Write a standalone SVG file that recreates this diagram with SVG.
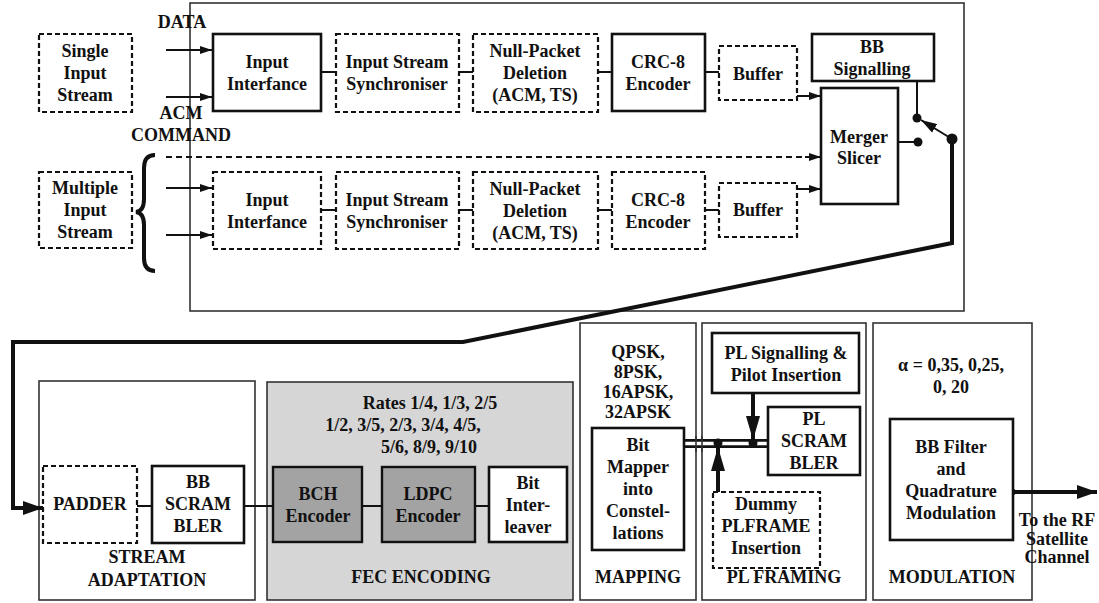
<svg xmlns="http://www.w3.org/2000/svg" width="1099" height="603" viewBox="0 0 1099 603">
<defs>
<style>
text{font-family:"Liberation Serif","Times New Roman",serif;font-weight:bold;font-size:18px;fill:#111;text-anchor:middle}
.frame{fill:none;stroke:#333;stroke-width:1.6}
.solid{fill:#fff;stroke:#111;stroke-width:2.6}
.dash{fill:#fff;stroke:#111;stroke-width:2.2;stroke-dasharray:5,3}
.dark{fill:#a3a3a3;stroke:#111;stroke-width:2.4}
.ln{fill:none;stroke:#111;stroke-width:2}
.thick{fill:none;stroke:#111;stroke-width:4}
.dot{fill:#111}
</style>
<marker id="ah" viewBox="0 0 12 8" refX="12" refY="4" markerWidth="12" markerHeight="8" markerUnits="userSpaceOnUse" orient="auto"><path d="M0,0 L12,4 L0,8 Z" fill="#111"/></marker>
<marker id="ahb" viewBox="0 0 20 14" refX="20" refY="7" markerWidth="20" markerHeight="14" markerUnits="userSpaceOnUse" orient="auto"><path d="M0,0 L20,7 L0,14 Z" fill="#111"/></marker>
<marker id="ahv" viewBox="0 0 24 14" refX="24" refY="7" markerWidth="24" markerHeight="14" markerUnits="userSpaceOnUse" orient="auto"><path d="M0,0 L24,7 L0,14 Z" fill="#111"/></marker>
<marker id="ahs" viewBox="0 0 16 10" refX="16" refY="5" markerWidth="16" markerHeight="10" markerUnits="userSpaceOnUse" orient="auto"><path d="M0,0 L16,5 L0,10 Z" fill="#111"/></marker>
</defs>

<g id="frames">
<rect class="frame" x="190" y="3" width="774" height="308"/>
<rect class="frame" x="39" y="381" width="216" height="219"/>
<rect x="267" y="382" width="306" height="218" fill="#d6d6d6" stroke="#333" stroke-width="1.6"/>
<rect class="frame" x="580" y="323" width="116" height="277"/>
<rect class="frame" x="702" y="323" width="164" height="277"/>
<rect class="frame" x="873" y="323" width="159" height="277"/>
</g>

<g id="connectors">
<line class="ln" x1="166" y1="50" x2="212" y2="50" marker-end="url(#ah)"/>
<line class="ln" x1="166" y1="97" x2="212" y2="97" marker-end="url(#ah)"/>
<line class="ln" x1="166" y1="188" x2="212" y2="188" marker-end="url(#ah)"/>
<line class="ln" x1="166" y1="235" x2="212" y2="235" marker-end="url(#ah)"/>
<line class="ln" x1="166" y1="157" x2="809" y2="157" stroke-dasharray="6,4"/>
<line class="ln" x1="805" y1="157" x2="821" y2="157" marker-end="url(#ah)"/>
<line class="ln" x1="321" y1="72" x2="336" y2="72"/>
<line class="ln" x1="459" y1="72" x2="473" y2="72"/>
<line class="ln" x1="598" y1="72" x2="612" y2="72"/>
<line class="ln" x1="705" y1="72" x2="719" y2="72"/>
<line class="ln" x1="321" y1="210" x2="336" y2="210"/>
<line class="ln" x1="459" y1="210" x2="473" y2="210"/>
<line class="ln" x1="598" y1="210" x2="612" y2="210"/>
<line class="ln" x1="705" y1="210" x2="719" y2="210"/>
<line class="ln" x1="797" y1="96" x2="821" y2="96" marker-end="url(#ah)"/>
<line class="ln" x1="797" y1="189" x2="821" y2="189" marker-end="url(#ah)"/>
<line class="ln" x1="898" y1="142" x2="918" y2="142" stroke-width="3"/>
<circle class="dot" cx="918" cy="142" r="4.5"/>
<line class="ln" x1="917" y1="81" x2="917" y2="118" stroke-width="3"/>
<circle class="dot" cx="917" cy="118" r="4.5"/>
<line class="ln" x1="952" y1="139" x2="921" y2="120" stroke-width="3" marker-end="url(#ahs)"/>
<circle class="dot" cx="952" cy="139" r="5.5"/>
<path class="thick" d="M952,139 L952,243 L463,342 L13,342 L13,508 L43,508" marker-end="url(#ahb)"/>
<line class="ln" x1="137" y1="506" x2="152" y2="506"/>
<line class="ln" x1="244" y1="506" x2="273" y2="506"/>
<line class="ln" x1="362" y1="506" x2="382" y2="506"/>
<line class="ln" x1="475" y1="506" x2="489" y2="506"/>
<line x1="684" y1="443.5" x2="768" y2="443.5" stroke="#111" stroke-width="9"/>
<line x1="684" y1="443.5" x2="768" y2="443.5" stroke="#fff" stroke-width="3.5"/>
<line class="frame" x1="696" y1="436" x2="696" y2="452"/>
<line class="frame" x1="702" y1="436" x2="702" y2="452"/>
<line class="thick" x1="753" y1="393" x2="753" y2="440" marker-end="url(#ahv)"/>
<circle class="dot" cx="753" cy="443" r="4.5"/>
<line class="thick" x1="718" y1="492" x2="718" y2="447" marker-end="url(#ahv)"/>
<circle class="dot" cx="718" cy="443" r="4.5"/>
<line class="thick" x1="1013" y1="492" x2="1097" y2="492" marker-end="url(#ahb)"/>
<circle class="dot" cx="1013" cy="492" r="3"/>
<path d="M155,155 Q144,155 144,168 L144,199 Q144,211 136,212 Q144,213 144,225 L144,258 Q144,271 155,271" fill="none" stroke="#111" stroke-width="4"/>
</g>

<g id="labels">
<text x="182" y="28">DATA</text>
<text x="181" y="119">ACM</text>
<text x="181" y="141">COMMAND</text>
<text x="1057" y="526">To the RF</text>
<text x="1057" y="545">Satellite</text>
<text x="1057" y="563">Channel</text>
</g>

<g id="single-input-stream"><rect class="dash" x="39" y="34" width="93" height="78"/><text x="85" y="57">Single</text><text x="85" y="79">Input</text><text x="85" y="101">Stream</text></g>
<g id="input-interface-1"><rect class="solid" x="213" y="34" width="108" height="77"/><text x="267" y="68">Input</text><text x="267" y="90">Interfance</text></g>
<g id="sync-1"><rect class="dash" x="336" y="34" width="123" height="78"/><text x="397" y="68">Input Stream</text><text x="397" y="90">Synchroniser</text></g>
<g id="null-1"><rect class="dash" x="473" y="34" width="125" height="78"/><text x="535" y="57">Null-Packet</text><text x="535" y="79">Deletion</text><text x="535" y="101">(ACM, TS)</text></g>
<g id="crc-1"><rect class="solid" x="612" y="34" width="93" height="77"/><text x="658" y="68">CRC-8</text><text x="658" y="90">Encoder</text></g>
<g id="buffer-1"><rect class="dash" x="719" y="46" width="78" height="54"/><text x="758" y="80">Buffer</text></g>
<g id="bb-signalling"><rect class="solid" x="812" y="34" width="122" height="47"/><text x="872" y="53">BB</text><text x="872" y="75">Signalling</text></g>
<g id="merger-slicer"><rect class="solid" x="821" y="88" width="77" height="116"/><text x="859" y="143">Merger</text><text x="859" y="164">Slicer</text></g>

<g id="multiple-input-stream"><rect class="dash" x="39" y="172" width="93" height="76"/><text x="85" y="194">Multiple</text><text x="85" y="216">Input</text><text x="85" y="238">Stream</text></g>
<g id="input-interface-2"><rect class="dash" x="213" y="172" width="108" height="77"/><text x="267" y="206">Input</text><text x="267" y="228">Interfance</text></g>
<g id="sync-2"><rect class="dash" x="336" y="172" width="123" height="77"/><text x="397" y="206">Input Stream</text><text x="397" y="228">Synchroniser</text></g>
<g id="null-2"><rect class="dash" x="473" y="172" width="125" height="77"/><text x="535" y="195">Null-Packet</text><text x="535" y="217">Deletion</text><text x="535" y="239">(ACM, TS)</text></g>
<g id="crc-2"><rect class="dash" x="612" y="172" width="93" height="77"/><text x="658" y="206">CRC-8</text><text x="658" y="228">Encoder</text></g>
<g id="buffer-2"><rect class="dash" x="719" y="183" width="78" height="54"/><text x="758" y="216">Buffer</text></g>

<g id="stream-adaptation"><text x="147" y="563">STREAM</text><text x="147" y="586">ADAPTATION</text></g>
<g id="padder"><rect class="dash" x="43" y="466" width="94" height="77"/><text x="90" y="510">PADDER</text></g>
<g id="bb-scrambler"><rect class="solid" x="152" y="466" width="92" height="77"/><text x="198" y="488">BB</text><text x="198" y="510">SCRAM</text><text x="198" y="532">BLER</text></g>

<g id="fec-encoding"><text x="430" y="409">Rates 1/4, 1/3, 2/5</text><text x="403" y="431">1/2, 3/5, 2/3, 3/4, 4/5,</text><text x="429" y="453">5/6, 8/9, 9/10</text><text x="421" y="583">FEC ENCODING</text></g>
<g id="bch-encoder"><rect class="dark" x="273" y="467" width="89" height="75"/><text x="318" y="500">BCH</text><text x="318" y="522">Encoder</text></g>
<g id="ldpc-encoder"><rect class="dark" x="382" y="467" width="93" height="75"/><text x="428" y="500">LDPC</text><text x="428" y="522">Encoder</text></g>
<g id="bit-interleaver"><rect class="solid" x="489" y="467" width="78" height="75" stroke-width="2"/><text x="528" y="489">Bit</text><text x="528" y="511">Inter-</text><text x="528" y="533">leaver</text></g>

<g id="mapping"><text x="638" y="358">QPSK,</text><text x="638" y="378">8PSK,</text><text x="638" y="398">16APSK,</text><text x="638" y="418">32APSK</text><text x="638" y="583">MAPPING</text></g>
<g id="bit-mapper"><rect class="solid" x="592" y="428" width="92" height="122"/><text x="638" y="451">Bit</text><text x="638" y="473">Mapper</text><text x="638" y="495">into</text><text x="638" y="517">Constel-</text><text x="638" y="539">lations</text></g>

<g id="pl-framing"><text x="784" y="583">PL FRAMING</text></g>
<g id="pl-signalling"><rect class="solid" x="712" y="333" width="147" height="60" stroke-width="3"/><text x="786" y="359">PL Signalling &amp;</text><text x="786" y="381">Pilot Insertion</text></g>
<g id="pl-scrambler"><rect class="solid" x="768" y="407" width="92" height="68"/><text x="814" y="425">PL</text><text x="814" y="447">SCRAM</text><text x="814" y="469">BLER</text></g>
<g id="dummy-plframe"><rect class="dash" x="713" y="492" width="107" height="76"/><text x="766" y="510">Dummy</text><text x="766" y="532">PLFRAME</text><text x="766" y="554">Insertion</text></g>

<g id="modulation"><text x="951" y="371">α = 0,35, 0,25,</text><text x="951" y="393">0, 20</text><text x="952" y="583">MODULATION</text></g>
<g id="bb-filter"><rect class="solid" x="890" y="419" width="123" height="121"/><text x="951" y="453">BB Filter</text><text x="951" y="475">and</text><text x="951" y="497">Quadrature</text><text x="951" y="519">Modulation</text></g>
</svg>
